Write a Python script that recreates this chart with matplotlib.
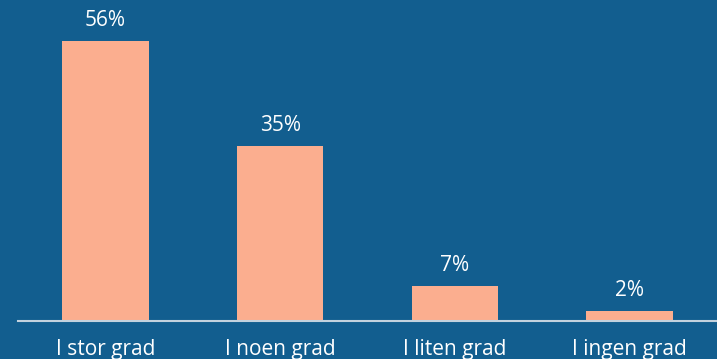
import matplotlib
matplotlib.use("Agg")
import matplotlib.pyplot as plt

categories = ["I stor grad", "I noen grad", "I liten grad", "I ingen grad"]
values = [56, 35, 7, 2]
labels = ["56%", "35%", "7%", "2%"]

bg = "#125E8F"
bar_color = "#FBAE8F"

plt.rcParams['font.family'] = ['Open Sans', 'DejaVu Sans']

fig = plt.figure(figsize=(7.17, 3.59), dpi=100, facecolor=bg)
ax = fig.add_axes([18/717, 38/359, 1 - 18/717, 321/359])
ax.set_facecolor(bg)

x = range(len(categories))
ax.bar(x, values, width=0.494, color=bar_color, zorder=2)
for xi, v, lab in zip(x, values, labels):
    ax.annotate(lab, (xi, v), xytext=(0, 7), textcoords="offset points",
                ha="center", va="bottom", color="white", fontsize=15)

ax.set_xlim(-0.5, 3.5)
ax.set_ylim(0, 64.2)
ax.set_yticks([])
ax.set_xticks(list(x))
ax.set_xticklabels(categories, color="white", fontsize=15)
ax.tick_params(axis="x", length=0, pad=13)
for s in ["top", "right", "left"]:
    ax.spines[s].set_visible(False)
ax.spines["bottom"].set_color("#C3D2DE")
ax.spines["bottom"].set_linewidth(1.5)

fig.savefig("out.png", dpi=100, facecolor=bg)
